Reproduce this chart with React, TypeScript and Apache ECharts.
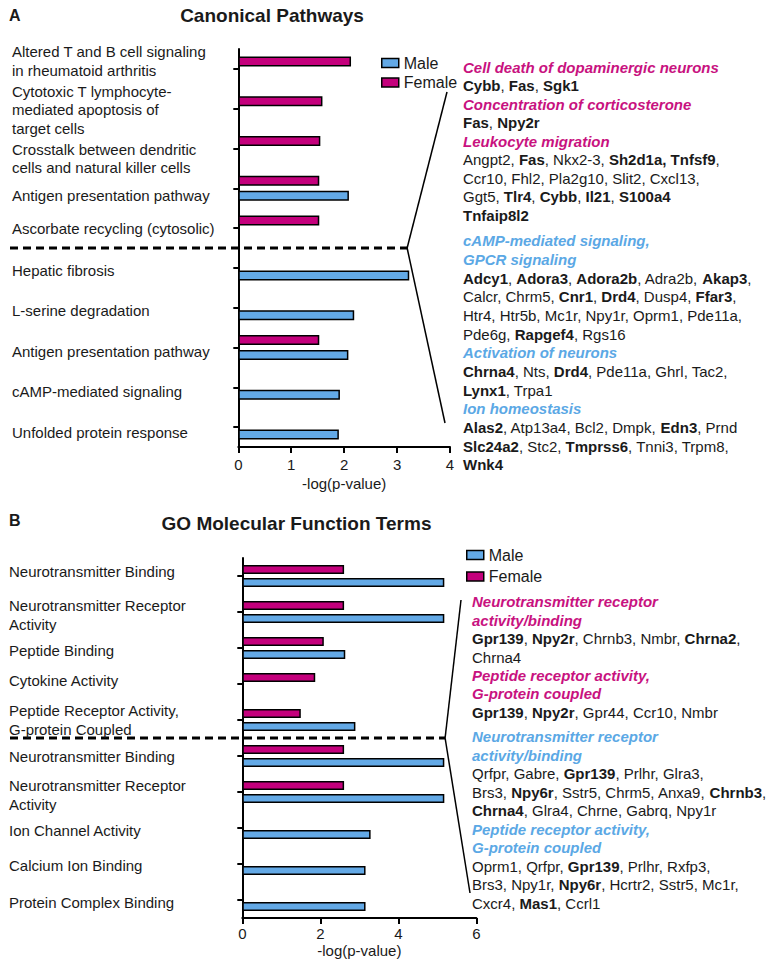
import React, { useEffect, useRef } from "react";
import * as echarts from "echarts";

// ---------- data ----------
const pathwayCategories = [
  "Altered T and B cell signaling\nin rheumatoid arthritis",
  "Cytotoxic T lymphocyte-\nmediated apoptosis of\ntarget cells",
  "Crosstalk between dendritic\ncells and natural killer cells",
  "Antigen presentation pathway",
  "Ascorbate recycling (cytosolic)",
  "Hepatic fibrosis",
  "L-serine degradation",
  "Antigen presentation pathway",
  "cAMP-mediated signaling",
  "Unfolded protein response",
];
const pathwayFemale = [2.13, 1.59, 1.55, 1.53, 1.53, null, null, 1.53, null, null];
const pathwayMale = [null, null, null, 2.09, null, 3.23, 2.19, 2.08, 1.92, 1.9];

const goCategories = [
  "Neurotransmitter Binding",
  "Neurotransmitter Receptor\nActivity",
  "Peptide Binding",
  "Cytokine Activity",
  "Peptide Receptor Activity,\nG-protein Coupled",
  "Neurotransmitter Binding",
  "Neurotransmitter Receptor\nActivity",
  "Ion Channel Activity",
  "Calcium Ion Binding",
  "Protein Complex Binding",
];
const goFemale = [2.61, 2.61, 2.09, 1.87, 1.5, 2.61, 2.61, null, null, null];
const goMale = [5.18, 5.18, 2.64, null, 2.9, 5.18, 5.18, 3.29, 3.16, 3.16];

const seriesNames = ["Male", "Female"];
const axisTitle = "-log(p-value)";
const panelTitles = ["Canonical Pathways", "GO Molecular Function Terms"];
const panelLetters = ["A", "B"];

// annotation texts (rich-text markup: m = female heading, c = male heading, b = bold gene, n = normal)
const annotA1 = [
  "{m|Cell death of dopaminergic neurons}",
  "{b|Cybb}{n|, }{b|Fas}{n|, }{b|Sgk1}",
  "{m|Concentration of corticosterone}",
  "{b|Fas}{n|, }{b|Npy2r}",
  "{m|Leukocyte migration}",
  "{n|Angpt2, }{b|Fas}{n|, Nkx2-3, }{b|Sh2d1a, Tnfsf9}{n|,}",
  "{n|Ccr10, Fhl2, Pla2g10, Slit2, Cxcl13,}",
  "{n|Ggt5, }{b|Tlr4}{n|, }{b|Cybb}{n|, }{b|Il21}{n|, }{b|S100a4}",
  "{b|Tnfaip8l2}",
];
const annotA2 = [
  "{c|cAMP-mediated signaling,}",
  "{c|GPCR signaling}",
  "{b|Adcy1}{n|, }{b|Adora3}{n|, }{b|Adora2b}{n|, Adra2b, }{b|Akap3}{n|,}",
  "{n|Calcr, Chrm5, }{b|Cnr1}{n|, }{b|Drd4}{n|, Dusp4, }{b|Ffar3}{n|,}",
  "{n|Htr4, Htr5b, Mc1r, Npy1r, Oprm1, Pde11a,}",
  "{n|Pde6g, }{b|Rapgef4}{n|, Rgs16}",
  "{c|Activation of neurons}",
  "{b|Chrna4}{n|, Nts, }{b|Drd4}{n|, Pde11a, Ghrl, Tac2,}",
  "{b|Lynx1}{n|, Trpa1}",
  "{c|Ion homeostasis}",
  "{b|Alas2}{n|, Atp13a4, Bcl2, Dmpk, }{b|Edn3}{n|, Prnd}",
  "{b|Slc24a2}{n|, Stc2, }{b|Tmprss6}{n|, Tnni3, Trpm8,}",
  "{b|Wnk4}",
];
const annotB1 = [
  "{m|Neurotransmitter receptor}",
  "{m|activity/binding}",
  "{b|Gpr139}{n|, }{b|Npy2r}{n|, Chrnb3, Nmbr, }{b|Chrna2}{n|,}",
  "{n|Chrna4}",
  "{m|Peptide receptor activity,}",
  "{m|G-protein coupled}",
  "{b|Gpr139}{n|, }{b|Npy2r}{n|, Gpr44, Ccr10, Nmbr}",
];
const annotB2 = [
  "{c|Neurotransmitter receptor}",
  "{c|activity/binding}",
  "{n|Qrfpr, Gabre, }{b|Gpr139}{n|, Prlhr, Glra3,}",
  "{n|Brs3, }{b|Npy6r}{n|, Sstr5, Chrm5, Anxa9, }{b|Chrnb3}{n|,}",
  "{b|Chrna4}{n|, Glra4, Chrne, Gabrq, Npy1r}",
  "{c|Peptide receptor activity,}",
  "{c|G-protein coupled}",
  "{n|Oprm1, Qrfpr, }{b|Gpr139}{n|, Prlhr, Rxfp3,}",
  "{n|Brs3, Npy1r, }{b|Npy6r}{n|, Hcrtr2, Sstr5, Mc1r,}",
  "{n|Cxcr4, }{b|Mas1}{n|, Ccrl1}",
];

// ---------- styles / layout ----------
const FONT = "Liberation Sans, Arial, Helvetica, sans-serif";
const MALE = "#63a9e6";
const FEMALE = "#c4007c";
const MALE_TXT = "#5ba8e5";
const FEMALE_TXT = "#c8127f";
const INK = "#1a1a1a";

const W = 778;
const H = 966;

const A = { left: 238.3, right: 450, top: 49, bottom: 447, max: 4, interval: 1, labelX: 12 };
const B = { left: 242.3, right: 476.3, top: 558, bottom: 918, max: 6, interval: 2, labelX: 9 };

const labelOffsetsA = [-8, 1, 10, 7, 0, 3, 3, 4, 4, 5];
const labelOffsetsB = [-5, 3, 2, -4, 0, 0, 3, 2, 1, 2];

function makeRich(lh: number) {
  const base = { fontSize: 15, fontFamily: FONT, lineHeight: lh };
  return {
    n: { ...base, fill: INK },
    b: { ...base, fill: INK, fontWeight: "bold" },
    m: { ...base, fill: FEMALE_TXT, fontWeight: "bold", fontStyle: "italic" },
    c: { ...base, fill: MALE_TXT, fontWeight: "bold", fontStyle: "italic" },
  };
}

function annot(lines: string[], x: number, firstCenterY: number, lh: number) {
  return {
    type: "text",
    x,
    y: firstCenterY - lh / 2,
    style: {
      text: lines.join("\n"),
      rich: makeRich(lh),
      fontSize: 15,
      fontFamily: FONT,
      fill: INK,
      lineHeight: lh,
      verticalAlign: "top",
      align: "left",
    },
  };
}

function xAxisFor(g: any, idx: number, labelMargin: number, nameGap: number) {
  return {
    type: "value",
    gridIndex: idx,
    min: 0,
    max: g.max,
    interval: g.interval,
    splitLine: { show: false },
    axisLine: { show: true, lineStyle: { color: "#000", width: 2 } },
    axisTick: { show: true, length: 6, lineStyle: { color: "#000", width: 2 } },
    axisLabel: { fontSize: 15, color: INK, fontFamily: FONT, margin: labelMargin },
    name: axisTitle,
    nameLocation: "middle",
    nameGap,
    nameTextStyle: { fontSize: 15, color: INK, fontFamily: FONT },
  };
}

function yAxisFor(cats: string[], idx: number) {
  return {
    type: "category",
    gridIndex: idx,
    inverse: true,
    data: cats,
    axisLine: { show: true, lineStyle: { color: "#000", width: 2 } },
    axisTick: { show: true, alignWithLabel: true, length: 5, lineStyle: { color: "#000", width: 2 } },
    axisLabel: { show: false },
  };
}

function barSeries(name: string, data: (number | null)[], idx: number, color: string, bw: number, gap: string) {
  return {
    type: "bar",
    name,
    xAxisIndex: idx,
    yAxisIndex: idx,
    data,
    barWidth: bw,
    barGap: gap,
    itemStyle: { color, borderColor: "#000", borderWidth: 1.5 },
  };
}

export default function App() {
  const ref = useRef<HTMLDivElement>(null);

  useEffect(() => {
    if (!ref.current) return;
    const chart = echarts.init(ref.current, null, { renderer: "svg" });

    const legendCommon = {
      orient: "vertical",
      icon: "rect",
      itemWidth: 17,
      itemHeight: 9,
      selectedMode: false,
      data: seriesNames,
      textStyle: { fontSize: 16, color: INK, fontFamily: FONT },
      itemStyle: { borderColor: "#000", borderWidth: 1.5 },
    };

    chart.setOption({
      animation: false,
      backgroundColor: "#fff",
      grid: [
        { left: A.left, top: A.top, width: A.right - A.left, height: A.bottom - A.top, containLabel: false, outerBoundsMode: "none" },
        { left: B.left, top: B.top, width: B.right - B.left, height: B.bottom - B.top, containLabel: false, outerBoundsMode: "none" },
      ],
      legend: [
        { ...legendCommon, left: 376, top: 50, itemGap: 3.5 },
        { ...legendCommon, left: 461, top: 542, itemGap: 5.5 },
      ],
      xAxis: [xAxisFor(A, 0, 10, 29), xAxisFor(B, 1, 8, 25)],
      yAxis: [yAxisFor(pathwayCategories, 0), yAxisFor(goCategories, 1)],
      series: [
        barSeries("Female", pathwayFemale, 0, FEMALE, 10, "50%"),
        barSeries("Male", pathwayMale, 0, MALE, 10, "50%"),
        barSeries("Female", goFemale, 1, FEMALE, 9, "45%"),
        barSeries("Male", goMale, 1, MALE, 9, "45%"),
      ],
    });

    // positions derived from the chart's own scales
    const catY = (grid: number, i: number) =>
      (chart.convertToPixel({ gridIndex: grid }, [0, i]) as number[])[1];
    const valX = (grid: number, v: number) =>
      (chart.convertToPixel({ gridIndex: grid }, [v, 0]) as number[])[0];

    const dashYA = (catY(0, 4) + catY(0, 5)) / 2;
    const dashYB = (catY(1, 4) + catY(1, 5)) / 2;
    const apexA = valX(0, 3.19);
    const apexB = valX(1, 5.2);

    const lineStyle = { stroke: "#000", lineWidth: 1.5 };
    const dash = { stroke: "#000", lineWidth: 3, lineDash: [8, 5] };

    const catLabel = (text: string, x: number, y: number) => ({
      type: "text",
      x,
      y,
      style: {
        text,
        fontSize: 15,
        lineHeight: 18.5,
        fontFamily: FONT,
        fill: INK,
        align: "left",
        verticalAlign: "middle",
      },
    });

    const labels = [
      ...pathwayCategories.map((c, i) => catLabel(c, A.labelX, catY(0, i) + labelOffsetsA[i])),
      ...goCategories.map((c, i) => catLabel(c, B.labelX, catY(1, i) + labelOffsetsB[i])),
    ];

    chart.setOption({
      graphic: [
        { type: "text", x: 9, y: 15, style: { text: panelLetters[0], fontSize: 16, fontWeight: "bold", fontFamily: FONT, fill: INK, verticalAlign: "middle" } },
        { type: "text", x: 272, y: 15, style: { text: panelTitles[0], fontSize: 19, fontWeight: "bold", fontFamily: FONT, fill: INK, align: "center", verticalAlign: "middle" } },
        { type: "text", x: 9, y: 520, style: { text: panelLetters[1], fontSize: 16, fontWeight: "bold", fontFamily: FONT, fill: INK, verticalAlign: "middle" } },
        { type: "text", x: 296.5, y: 523, style: { text: panelTitles[1], fontSize: 19, fontWeight: "bold", fontFamily: FONT, fill: INK, align: "center", verticalAlign: "middle" } },
        { type: "line", shape: { x1: 10, y1: dashYA, x2: apexA, y2: dashYA }, style: dash },
        { type: "line", shape: { x1: apexA, y1: dashYA, x2: 447, y2: 92 }, style: lineStyle },
        { type: "line", shape: { x1: apexA, y1: dashYA, x2: 445, y2: 423 }, style: lineStyle },
        { type: "line", shape: { x1: 10, y1: dashYB, x2: apexB, y2: dashYB }, style: dash },
        { type: "line", shape: { x1: apexB, y1: dashYB, x2: 461, y2: 600 }, style: lineStyle },
        { type: "line", shape: { x1: apexB, y1: dashYB, x2: 470, y2: 893 }, style: lineStyle },
        ...labels,
        annot(annotA1, 463, 67, 18.5),
        annot(annotA2, 463, 241, 18.65),
        annot(annotB1, 472, 602, 18.35),
        annot(annotB2, 472, 737, 18.45),
      ],
    });

    return () => chart.dispose();
  }, []);

  return (
    <div
      ref={ref}
      style={{ position: "fixed", left: 0, top: 0, width: W, height: H, background: "#fff" }}
    />
  );
}
